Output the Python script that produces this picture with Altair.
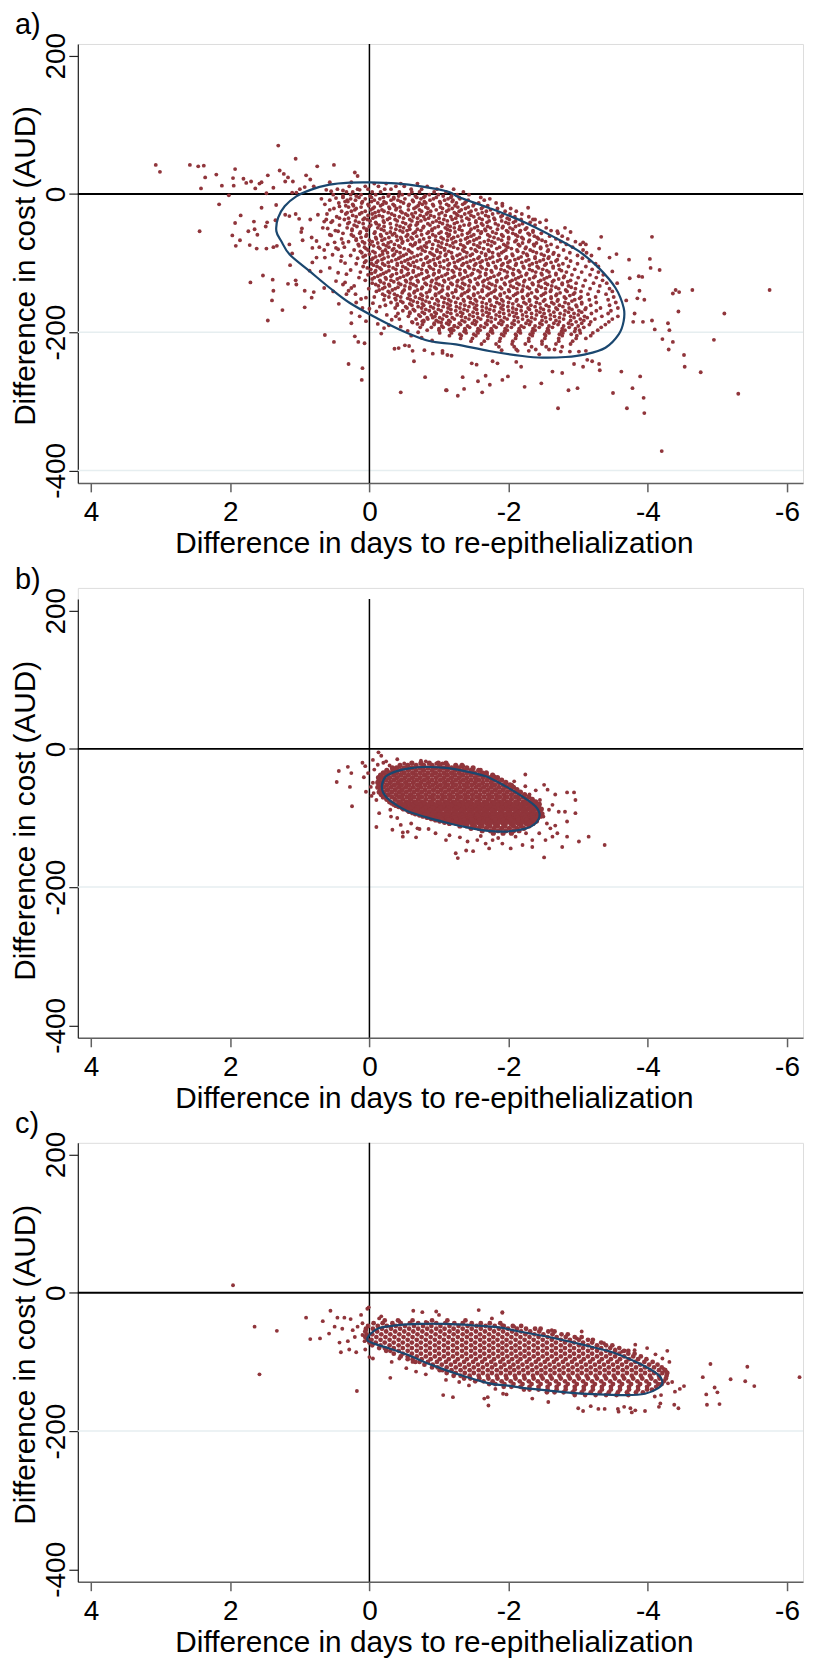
import altair as alt
import pandas as pd

FONT = "Liberation Sans"
DOT = "#90353b"
NAVY = "#1a476f"
X_TICKS = [4, 2, 0, -2, -4, -6]
Y_TICKS = [200, 0, -200, -400]
X_DOMAIN = [-6.23, 4.19]
Y_DOMAIN = [-418, 217]
X_TITLE = "Difference in days to re-epithelialization"
Y_TITLE = "Difference in cost (AUD)"

# ---------------- panel a ----------------
a_extra = [
    (3.07, 42), (3.01, 32), (2.58, 42), (2.46, 40), (2.38, 41), (2.36, 24), (2.42, 8), (2.20, 28), (2.12, 12),
    (2.02, -2), (1.93, 36), (1.96, 23), (1.95, 12), (1.81, 22), (1.77, 16), (1.70, 18), (1.64, 8), (1.58, 15),
    (1.55, 17), (1.46, 27), (1.48, 1), (1.38, 9), (1.31, 70), (1.29, 34), (1.23, 29), (1.21, 18), (1.17, 24),
    (1.10, 18), (1.06, 51), (1.11, 2), (1.05, 2), (1.00, 7), (0.93, 10), (0.91, 27), (0.85, 21), (0.80, 11),
    (0.75, 40), (0.57, 17), (0.51, 42), (0.38, 5), (0.26, 17), (0.21, 31), (0.17, 26), (0.14, 6),
    (2.16, -15), (2.44, -54), (1.85, -31), (1.93, -42), (1.97, -60), (1.86, -67), (1.92, -75), (1.74, -54),
    (1.66, -40), (1.65, -51), (1.61, -59), (1.62, -79), (1.72, -74), (1.48, -79), (1.55, -20), (1.47, -41),
    (1.49, -47), (1.34, -16), (1.35, -38), (1.38, -77), (1.33, -75), (1.71, -128), (1.53, -118), (1.39, -124),
    (1.38, -140), (1.40, -154), (1.25, -168), (1.46, -183), (1.17, -130), (1.05, -131), (1.06, -125),
    (0.93, -164), (0.83, -150), (0.80, -142), (0.93, -140), (1.21, -30), (1.15, -32), (1.15, -73), (1.14, -103),
    (1.11, -86), (1.06, -29), (1.01, -36), (0.98, -55), (0.97, -50), (0.96, -67), (0.85, -37), (0.83, -63),
    (0.82, -78), (0.86, -111), (0.82, -99), (0.76, -92), (0.72, -77), (0.70, -112), (0.65, -81), (0.65, -136),
    (0.64, -204), (0.51, -214), (0.48, -126), (0.44, -159), (0.52, -141), (0.30, -246), (0.26, -187),
    (0.21, -206), (0.16, -214), (0.11, -269), (0.10, -252), (0.07, -216), (0.0, -166),
    (0.69, -7), (0.62, 6), (0.55, 4), (0.48, -6), (0.38, -3), (0.31, -11), (0.64, -15), (0.57, -23), (0.43, -18),
    (0.74, -30), (0.62, -37), (0.53, -39), (0.43, -35), (0.67, -49), (0.57, -59), (0.45, -54), (0.76, -68),
    (0.60, -73), (0.48, -78), (0.38, -71), (0.64, -92), (0.53, -88), (0.41, -97), (0.57, -107), (0.45, -114),
    (0.33, -116), (0.38, -131), (0.26, -136), (0.33, -145), (0.19, -157), (0.10, -165), (0.26, -172),
    (0.14, -177), (0.05, -184),
    (0.2, -145), (0.05, -150), (-0.05, -158), (0.12, -152), (-0.15, -163), (-0.1, -170), (-0.25, -175),
    (-0.32, -182), (-0.28, -190), (-0.45, -192), (-0.55, -198), (-0.6, -205), (-0.75, -208), (-0.9, -212),
    (-0.7, -200), (0.3, -140), (0.35, -128), (0.22, -133), (0.15, -121), (0.27, -110), (0.35, -100),
    (0.4, -90), (0.45, -80), (0.5, -70), (0.55, -60), (0.6, -50), (0.65, -40),
    (-1.73, -7), (-1.91, -14), (-2.28, -20), (-2.35, -37), (-2.54, -38), (-2.70, -54), (-2.81, -49),
    (-2.89, -55), (-3.07, -70), (-3.11, -73), (-3.33, -62), (-3.30, -79), (-3.45, -92), (-3.55, -87),
    (-3.49, -112), (-3.56, -129), (-3.73, -95), (-3.74, -122), (-3.87, -119), (-3.92, -120), (-3.88, -140),
    (-3.95, -153), (-3.85, -151), (-3.69, -154), (-3.81, -173), (-3.79, -185), (-3.93, -185), (-4.06, -183),
    (-4.10, -196), (-4.03, -94), (-4.06, -62), (-4.17, -110), (-4.04, -107), (-4.29, -187), (-4.31, -197),
    (-4.21, -210), (-4.36, -144), (-4.40, -139), (-4.45, -142), (-4.44, -170), (-4.64, -139), (-4.36, -214),
    (-4.30, -225), (-4.52, -233), (-4.53, -250), (-4.76, -258), (-4.95, -211), (-5.10, -173), (-5.30, -289),
    (-5.75, -139), (-4.20, -372), (-3.89, -264), (-3.78, -281), (-3.94, -295), (-3.95, -317), (-3.70, -310),
    (-3.50, -288), (-3.62, -257), (-3.31, -255), (-3.30, -246), (-3.13, -240), (-3.07, -250), (-2.99, -281),
    (-2.86, -284), (-2.94, -246), (-2.77, -259), (-2.63, -257), (-2.71, -310), (-2.47, -274), (-2.23, -279),
    (-2.18, -250), (-2.11, -243), (-1.99, -264), (-1.91, -269), (-1.73, -276), (-1.67, -263), (-1.62, -287),
    (-1.56, -271), (-1.47, -245), (-1.54, -247), (-1.36, -282), (-1.34, -265), (-1.27, -292), (-1.11, -284),
    (-1.12, -233), (-1.18, -234), (-1.05, -227), (-1.77, -242), (-1.84, -245), (-1.90, -226), (-2.13, -227),
    (-2.29, -227), (-2.44, -232), (-2.58, -225), (-2.75, -228), (-2.88, -228), (-3.01, -228), (-3.11, -227),
    (-3.20, -242), (-0.36, -224), (-0.42, -223), (-0.51, -219), (-0.57, -220), (-0.64, -242), (-0.62, -227),
    (-0.79, -226), (-0.80, -265), (-0.91, -231), (-1.05, -230), (-1.10, -284), (-0.45, -287), (-0.17, -202),
    (-0.38, -177), (-0.43, -181), (-0.62, -186), (-0.69, -188), (-0.73, -193), (-0.76, -184), (-0.91, -179),
    (-1.03, -186), (-1.15, -196), (-1.22, -191), (-0.12, -188), (-0.21, -194),
]

a_rows = [
    (15, [-.07, -.24, -.45, -.69]),
    (11, [.29, .06, -.13, -.38, -.5, -.83, -1.04]),
    (7, [.46, .17, .02, -.22, -.31, -.6, -.75, -.97, -1.21]),
    (3, [.33, .24, -.04, -.16, -.43, -.61, -.72, -.93, -1.1, -1.35]),
    (-1, [.52, .27, .12, -.09, -.28, -.47, -.57, -.86, -.99, -1.26, -1.43]),
    (-5, [.38, .15, -.03, -.2, -.35, -.68, -.78, -.96, -1.17, -1.29, -1.6]),
    (-9, [.57, .32, .2, -.07, -.31, -.41, -.62, -.87, -1.08, -1.2, -1.42, -1.65]),
    (-13, [.44, .11, -.12, -.24, -.49, -.72, -.81, -1.02, -1.25, -1.37, -1.57, -1.82]),
    (-17, [.34, .23, .01, -.16, -.36, -.56, -.7, -.92, -1.14, -1.23, -1.49, -1.7, -1.91]),
    (-21, [.51, .19, -.05, -.29, -.39, -.64, -.84, -1.05, -1.19, -1.38, -1.61, -1.84, -2.03]),
    (-25, [.4, .26, .06, -.13, -.21, -.45, -.75, -.88, -1.11, -1.29, -1.46, -1.68, -1.95, -2.11]),
    (-29, [.61, .34, .14, -.04, -.32, -.52, -.61, -.82, -1.0, -1.25, -1.37, -1.56, -1.77, -2.02, -2.19]),
    (-33, [.47, .19, -.09, -.19, -.43, -.63, -.78, -.93, -1.17, -1.32, -1.5, -1.71, -1.89, -2.09, -2.29]),
    (-37, [.36, .09, .03, -.26, -.37, -.58, -.8, -1.07, -1.19, -1.43, -1.62, -1.8, -2.01, -2.18, -2.38]),
    (-41, [.55, .29, .15, -.09, -.21, -.48, -.69, -.91, -1.01, -1.26, -1.53, -1.69, -1.96, -2.07, -2.31, -2.45]),
    (-45, [.43, .22, -.02, -.14, -.39, -.59, -.67, -.87, -1.12, -1.36, -1.43, -1.63, -1.85, -2.15, -2.38]),
    (-49, [.32, .08, -.12, -.31, -.49, -.77, -.94, -1.09, -1.22, -1.51, -1.74, -1.91, -2.02, -2.26, -2.54]),
    (-53, [.49, .25, .04, -.21, -.44, -.54, -.74, -.9, -1.16, -1.33, -1.56, -1.67, -1.97, -2.17, -2.35, -2.61]),
    (-57, [.38, .14, -.07, -.25, -.36, -.63, -.83, -1.0, -1.11, -1.41, -1.6, -1.82, -2.06, -2.28, -2.47, -2.71]),
    (-61, [.23, .05, -.17, -.39, -.53, -.68, -.95, -1.13, -1.27, -1.46, -1.73, -1.92, -2.13, -2.37, -2.59, -2.77]),
    (-65, [.4, .19, -.1, -.22, -.46, -.62, -.78, -1.06, -1.18, -1.38, -1.54, -1.85, -2.0, -2.21, -2.43, -2.68, -2.85]),
    (-69, [.3, .1, -.04, -.31, -.48, -.72, -.86, -.99, -1.24, -1.44, -1.65, -1.76, -2.09, -2.29, -2.53, -2.75, -2.96]),
    (-73, [.16, -.01, -.2, -.36, -.59, -.65, -.91, -1.11, -1.31, -1.5, -1.7, -1.93, -2.14, -2.36, -2.61, -2.83, -3.03]),
    (-77, [.36, .07, -.13, -.28, -.44, -.74, -.82, -1.03, -1.21, -1.37, -1.58, -1.87, -1.99, -2.25, -2.46, -2.7, -2.92]),
    (-81, [.22, .02, -.23, -.33, -.56, -.76, -.97, -1.08, -1.34, -1.52, -1.71, -1.96, -2.12, -2.31, -2.57, -2.79, -3.07]),
    (-85, [.11, -.08, -.26, -.44, -.61, -.87, -1.02, -1.18, -1.4, -1.61, -1.77, -1.9, -2.21, -2.4, -2.65, -2.88, -3.12]),
    (-89, [.27, .06, -.15, -.34, -.49, -.69, -.93, -1.09, -1.26, -1.45, -1.67, -1.86, -2.06, -2.27, -2.51, -2.72, -2.99, -3.19]),
    (-93, [.17, -.05, -.21, -.42, -.59, -.81, -.98, -1.2, -1.34, -1.56, -1.73, -1.96, -2.14, -2.38, -2.57, -2.83, -3.06]),
    (-97, [.05, -.12, -.32, -.51, -.68, -.87, -1.07, -1.27, -1.45, -1.62, -1.84, -2.02, -2.25, -2.45, -2.68, -2.89, -3.16]),
    (-101, [.19, -.03, -.19, -.4, -.56, -.78, -.94, -1.15, -1.35, -1.53, -1.7, -1.92, -2.11, -2.34, -2.54, -2.78, -2.99, -3.25]),
    (-105, [.09, -.11, -.28, -.48, -.65, -.86, -1.02, -1.23, -1.42, -1.6, -1.81, -1.99, -2.21, -2.41, -2.64, -2.86, -3.11, -3.29]),
    (-109, [-.02, -.17, -.38, -.55, -.75, -.92, -1.13, -1.3, -1.5, -1.68, -1.89, -2.07, -2.3, -2.49, -2.73, -2.95, -3.2]),
    (-113, [.13, -.08, -.24, -.46, -.63, -.83, -1.0, -1.21, -1.38, -1.59, -1.76, -1.98, -2.16, -2.39, -2.58, -2.83, -3.05, -3.29]),
    (-117, [.02, -.16, -.33, -.54, -.71, -.92, -1.09, -1.3, -1.46, -1.67, -1.85, -2.07, -2.25, -2.48, -2.68, -2.91, -3.17, -3.36]),
    (-121, [-.07, -.23, -.44, -.61, -.82, -.99, -1.19, -1.36, -1.57, -1.74, -1.96, -2.14, -2.36, -2.55, -2.79, -3.0, -3.26]),
    (-125, [.06, -.15, -.31, -.52, -.69, -.9, -1.07, -1.27, -1.44, -1.65, -1.83, -2.05, -2.23, -2.46, -2.65, -2.89, -3.1, -3.35]),
    (-129, [-.04, -.21, -.42, -.59, -.8, -.96, -1.17, -1.34, -1.55, -1.72, -1.94, -2.12, -2.34, -2.53, -2.77, -2.97, -3.22, -3.41]),
    (-133, [-.13, -.29, -.51, -.67, -.88, -1.05, -1.26, -1.43, -1.64, -1.81, -2.03, -2.21, -2.43, -2.62, -2.86, -3.07, -3.31]),
    (-137, [.01, -.19, -.37, -.58, -.75, -.96, -1.13, -1.34, -1.51, -1.72, -1.9, -2.12, -2.3, -2.53, -2.72, -2.96, -3.17, -3.45]),
    (-141, [-.1, -.27, -.48, -.65, -.86, -1.03, -1.24, -1.41, -1.62, -1.79, -2.01, -2.19, -2.41, -2.6, -2.84, -3.04, -3.29, -3.49]),
    (-145, [-.19, -.36, -.57, -.74, -.95, -1.12, -1.33, -1.5, -1.71, -1.88, -2.1, -2.28, -2.5, -2.69, -2.93, -3.14, -3.4]),
    (-149, [-.07, -.28, -.45, -.66, -.83, -1.04, -1.21, -1.42, -1.59, -1.8, -1.98, -2.2, -2.38, -2.61, -2.8, -3.04, -3.25, -3.51]),
    (-153, [-.21, -.38, -.59, -.76, -.97, -1.14, -1.35, -1.52, -1.73, -1.9, -2.12, -2.3, -2.52, -2.71, -2.95, -3.16, -3.43]),
    (-157, [-.31, -.48, -.69, -.86, -1.07, -1.24, -1.45, -1.62, -1.83, -2.0, -2.22, -2.4, -2.62, -2.81, -3.05, -3.26, -3.54]),
    (-161, [-.23, -.4, -.61, -.78, -.99, -1.16, -1.37, -1.54, -1.75, -1.92, -2.14, -2.32, -2.54, -2.73, -2.97, -3.18, -3.45]),
    (-165, [-.37, -.54, -.75, -.92, -1.13, -1.3, -1.51, -1.68, -1.89, -2.06, -2.28, -2.46, -2.68, -2.87, -3.11, -3.32, -3.57]),
    (-169, [-.48, -.65, -.86, -1.03, -1.24, -1.41, -1.62, -1.79, -2.0, -2.18, -2.4, -2.58, -2.81, -3.01, -3.26, -3.47]),
    (-173, [-.41, -.58, -.79, -.96, -1.17, -1.34, -1.55, -1.72, -1.93, -2.11, -2.33, -2.51, -2.74, -2.94, -3.19, -3.43]),
    (-177, [-.56, -.73, -.94, -1.11, -1.32, -1.49, -1.7, -1.87, -2.08, -2.26, -2.48, -2.66, -2.89, -3.09, -3.34, -3.57]),
    (-181, [-.67, -.84, -1.05, -1.22, -1.43, -1.6, -1.81, -1.98, -2.2, -2.38, -2.6, -2.79, -3.03, -3.24, -3.49]),
    (-185, [-.61, -.78, -.99, -1.16, -1.37, -1.54, -1.75, -1.92, -2.14, -2.32, -2.54, -2.73, -2.97, -3.18, -3.44]),
    (-189, [-.76, -.93, -1.14, -1.31, -1.52, -1.69, -1.9, -2.08, -2.3, -2.48, -2.71, -2.91, -3.16, -3.39]),
    (-193, [-.89, -1.06, -1.27, -1.44, -1.65, -1.82, -2.04, -2.22, -2.44, -2.63, -2.87, -3.08, -3.33]),
    (-197, [-.83, -1.0, -1.21, -1.38, -1.59, -1.76, -1.98, -2.16, -2.38, -2.57, -2.81, -3.02, -3.28]),
    (-201, [-1.01, -1.18, -1.39, -1.56, -1.77, -1.95, -2.17, -2.35, -2.58, -2.78, -3.03, -3.21]),
    (-205, [-1.15, -1.32, -1.53, -1.71, -1.93, -2.11, -2.34, -2.53, -2.77, -2.98, -3.18]),
    (-209, [-1.31, -1.48, -1.7, -1.88, -2.1, -2.29, -2.52, -2.72, -2.97, -3.11]),
    (-213, [-1.46, -1.65, -1.87, -2.06, -2.29, -2.48, -2.72, -2.92]),
    (-217, [-1.61, -1.82, -2.05, -2.24, -2.48, -2.68, -2.89]),
    (-221, [-1.86, -2.08, -2.33, -2.54, -2.77]),
    (-225, [-2.11, -2.39, -2.66]),
    # denser middle band
    (-3, [.19, -.01, -.27, -.42, -.66, -.8, -1.06, -1.18]),
    (-7, [.27, .06, -.15, -.35, -.51, -.74, -.92, -1.13, -1.3]),
    (-11, [.35, .1, -.03, -.21, -.45, -.63, -.79, -1.01, -1.19, -1.39]),
    (-15, [.24, .02, -.19, -.34, -.57, -.76, -.91, -1.11, -1.34, -1.5]),
    (-19, [.3, .12, -.07, -.28, -.44, -.67, -.81, -1.02, -1.27, -1.42, -1.63]),
    (-23, [.21, -.02, -.18, -.38, -.56, -.72, -.96, -1.14, -1.32, -1.53, -1.74]),
    (-27, [.32, .11, -.08, -.27, -.47, -.66, -.84, -1.04, -1.22, -1.43, -1.62, -1.85]),
    (-31, [.24, .02, -.14, -.36, -.55, -.73, -.88, -1.09, -1.27, -1.46, -1.67, -1.91]),
    (-35, [.3, .07, -.05, -.29, -.49, -.69, -.85, -1.0, -1.24, -1.4, -1.58, -1.79, -1.98]),
    (-39, [.2, -.01, -.2, -.4, -.61, -.74, -.96, -1.12, -1.33, -1.53, -1.72, -1.9, -2.1]),
    (-43, [.31, .09, -.1, -.3, -.52, -.69, -.84, -1.05, -1.22, -1.44, -1.61, -1.81, -2.0, -2.2]),
    (-47, [.18, .0, -.21, -.44, -.57, -.78, -.99, -1.16, -1.3, -1.55, -1.7, -1.92, -2.1]),
    (-51, [.25, .04, -.17, -.38, -.58, -.69, -.9, -1.12, -1.29, -1.46, -1.66, -1.84, -2.06, -2.24]),
    (-55, [.13, -.08, -.3, -.48, -.66, -.85, -1.03, -1.23, -1.44, -1.61, -1.77, -1.99, -2.16, -2.35]),
    (-59, [.26, .04, -.16, -.33, -.55, -.75, -.91, -1.15, -1.33, -1.5, -1.7, -1.9, -2.1, -2.3]),
    (-63, [.12, -.09, -.28, -.45, -.6, -.86, -1.03, -1.21, -1.41, -1.58, -1.79, -2.0, -2.19, -2.41]),
    (-67, [.19, .0, -.18, -.4, -.55, -.72, -.95, -1.12, -1.31, -1.5, -1.71, -1.9, -2.11, -2.3, -2.48]),
    (-71, [.07, -.12, -.27, -.47, -.66, -.82, -1.04, -1.2, -1.41, -1.59, -1.8, -1.99, -2.2, -2.4]),
    (-75, [.15, -.06, -.24, -.42, -.62, -.79, -.99, -1.16, -1.35, -1.55, -1.75, -1.96, -2.16, -2.37, -2.55]),
    (-79, [.05, -.15, -.35, -.5, -.7, -.9, -1.08, -1.27, -1.46, -1.64, -1.83, -2.04, -2.24, -2.46]),
    (-83, [.13, -.05, -.19, -.39, -.58, -.8, -.97, -1.14, -1.36, -1.54, -1.72, -1.93, -2.13, -2.35, -2.56]),
    (-87, [.0, -.19, -.36, -.53, -.74, -.9, -1.1, -1.3, -1.48, -1.67, -1.85, -2.05, -2.26, -2.47, -2.64]),
    (-91, [.09, -.09, -.27, -.45, -.64, -.83, -1.01, -1.19, -1.39, -1.58, -1.77, -1.97, -2.18, -2.38, -2.58]),
    (-95, [-.03, -.18, -.38, -.55, -.74, -.92, -1.12, -1.3, -1.5, -1.68, -1.88, -2.09, -2.29, -2.5, -2.7]),
    (-99, [.07, -.1, -.27, -.46, -.63, -.84, -1.01, -1.22, -1.4, -1.59, -1.78, -1.99, -2.19, -2.4, -2.61]),
    (-103, [-.06, -.22, -.4, -.59, -.77, -.95, -1.13, -1.33, -1.51, -1.71, -1.9, -2.1, -2.3, -2.52, -2.72]),
    (-107, [.03, -.15, -.34, -.52, -.7, -.88, -1.07, -1.25, -1.44, -1.62, -1.82, -2.02, -2.22, -2.43, -2.64]),
    (-111, [-.09, -.28, -.46, -.63, -.82, -1.0, -1.19, -1.37, -1.56, -1.75, -1.94, -2.14, -2.34, -2.55, -2.76]),
    (-115, [-.03, -.2, -.39, -.56, -.75, -.93, -1.12, -1.3, -1.48, -1.67, -1.87, -2.06, -2.26, -2.47, -2.68]),
    (-119, [-.12, -.31, -.49, -.67, -.85, -1.04, -1.22, -1.41, -1.59, -1.79, -1.98, -2.18, -2.38, -2.59, -2.8]),
    (-123, [-.04, -.24, -.4, -.59, -.78, -.96, -1.14, -1.33, -1.52, -1.7, -1.9, -2.1, -2.3, -2.51, -2.72]),
    (-127, [-.16, -.35, -.53, -.7, -.89, -1.08, -1.26, -1.45, -1.63, -1.83, -2.02, -2.22, -2.43, -2.63, -2.85]),
    (-131, [-.09, -.28, -.45, -.63, -.82, -1.0, -1.19, -1.37, -1.56, -1.76, -1.95, -2.15, -2.35, -2.56, -2.77]),
    (-135, [-.22, -.41, -.58, -.76, -.94, -1.13, -1.31, -1.5, -1.69, -1.88, -2.07, -2.27, -2.47, -2.68, -2.9]),
    (-139, [-.14, -.33, -.5, -.69, -.87, -1.05, -1.24, -1.43, -1.62, -1.81, -2.0, -2.2, -2.4, -2.61, -2.82]),
    (-143, [-.29, -.47, -.64, -.82, -1.0, -1.19, -1.37, -1.56, -1.75, -1.94, -2.13, -2.33, -2.53, -2.74, -2.95]),
    (-147, [-.22, -.4, -.58, -.76, -.95, -1.13, -1.32, -1.5, -1.69, -1.88, -2.07, -2.27, -2.47, -2.68, -2.88]),
    (-151, [-.37, -.55, -.72, -.9, -1.08, -1.27, -1.45, -1.64, -1.83, -2.02, -2.21, -2.41, -2.61, -2.82, -3.02]),
    (-155, [-.45, -.63, -.81, -.99, -1.17, -1.36, -1.54, -1.73, -1.92, -2.11, -2.3, -2.5, -2.7, -2.91]),
    (-159, [-.4, -.58, -.76, -.94, -1.12, -1.31, -1.49, -1.68, -1.87, -2.06, -2.25, -2.45, -2.65, -2.86, -3.05]),
    (-163, [-.52, -.7, -.88, -1.06, -1.25, -1.43, -1.62, -1.8, -1.99, -2.18, -2.38, -2.58, -2.78, -2.98]),
    (-167, [-.63, -.81, -.99, -1.17, -1.36, -1.54, -1.73, -1.92, -2.11, -2.3, -2.5, -2.7, -2.91, -3.1]),
    (-171, [-.58, -.76, -.94, -1.12, -1.31, -1.49, -1.68, -1.87, -2.06, -2.25, -2.45, -2.65, -2.86, -3.05]),
    (-175, [-.71, -.89, -1.07, -1.26, -1.44, -1.63, -1.82, -2.01, -2.2, -2.4, -2.6, -2.8, -3.0]),
    (-179, [-.83, -1.01, -1.19, -1.38, -1.56, -1.75, -1.94, -2.13, -2.33, -2.53, -2.73, -2.94, -3.13]),
    (-183, [-.78, -.96, -1.14, -1.33, -1.51, -1.7, -1.89, -2.08, -2.28, -2.48, -2.68, -2.89, -3.08]),
    (-187, [-.93, -1.11, -1.29, -1.48, -1.67, -1.86, -2.05, -2.25, -2.45, -2.65, -2.86, -3.05]),
    (-191, [-1.04, -1.22, -1.41, -1.6, -1.79, -1.98, -2.18, -2.38, -2.58, -2.79, -3.0]),
    (-195, [-1.0, -1.18, -1.37, -1.56, -1.75, -1.95, -2.15, -2.35, -2.56, -2.77, -2.96]),
    (-199, [-1.17, -1.36, -1.55, -1.74, -1.94, -2.14, -2.34, -2.55, -2.76, -2.95]),
    (-203, [-1.3, -1.5, -1.7, -1.9, -2.1, -2.31, -2.52, -2.73, -2.9]),
]

a_ellipse = [
    (1.337, -53.9), (1.313, -34.7), (1.218, -17.8), (1.051, -3.4), (0.836, 6.3), (0.573, 13.5), (0.287, 16.4),
    (0.0, 16.8), (-0.382, 15.4), (-0.764, 10.6), (-1.146, 2.9), (-1.289, -4.8), (-1.719, -20.2), (-2.197, -39.5),
    (-2.674, -63.5), (-3.009, -82.8), (-3.295, -106.9), (-3.534, -135.7), (-3.653, -164.6), (-3.653, -183.9),
    (-3.582, -203.1), (-3.391, -222.4), (-3.104, -232.0), (-2.818, -235.9), (-2.483, -236.8), (-2.197, -234.4),
    (-1.719, -227.2), (-1.242, -217.6), (-0.860, -212.8), (-0.478, -198.3), (-0.096, -179.1), (0.287, -157.4),
    (0.573, -135.7), (0.860, -111.7), (1.146, -87.6), (1.266, -68.4),
]
a_grid = [-200, -400]

# ---------------- panel b ----------------
b_extra = [
    (-0.13, -5), (-0.17, -10), (0.44, -32), (0.31, -26), (0.26, -35), (0.47, -48), (0.28, -55), (0.25, -83),
    (0.10, -20), (0.06, -25), (0.02, -35), (0.08, -41), (-0.05, -16), (-0.07, -30), (-0.12, -23), (-0.24, -18),
    (-0.29, -24), (-0.05, -49), (-0.06, -64), (-0.10, -74), (-0.14, -93), (-0.10, -113), (-0.31, -98),
    (-0.33, -117), (-0.48, -127), (-0.55, -120), (-0.67, -128), (-0.72, -116), (-0.85, -116), (-1.10, -132),
    (-1.24, -151), (-1.27, -158), (-1.39, -147), (-1.49, -148), (-1.41, -134), (-1.55, -132), (-1.67, -137),
    (-1.77, -132), (-1.72, -144), (-1.91, -137), (-2.03, -144), (-2.20, -139), (-2.34, -142), (-2.51, -157),
    (-2.34, -132), (-2.44, -122), (-2.53, -132), (-2.63, -127), (-2.67, -111), (-2.70, -122), (-2.77, -142),
    (-2.84, -127), (-2.84, -105), (-2.96, -93), (-3.01, -134), (-3.15, -127), (-3.38, -139), (-2.84, -63),
    (-2.94, -63), (-2.96, -74), (-2.67, -66), (-2.51, -52), (-2.56, -59), (-2.39, -60), (-2.24, -37),
    (-2.08, -47), (-1.96, -50), (-1.80, -40), (-1.67, -36), (-2.24, -54), (-2.63, -81), (-2.72, -91),
    (-2.81, -91), (-0.74, -17), (-0.81, -18), (-0.96, -21), (-1.05, -21), (-1.24, -28), (-1.48, -32),
    (-0.69, -115), (-0.48, -121), (-0.45, -110), (-1.15, -125), (-1.3, -128), (-1.6, -126), (-1.85, -129),
    (-2.1, -127), (-2.25, -122), (-2.5, -98), (-2.55, -108), (-2.58, -88), (-2.6, -115), (-0.95, -122),
    (-0.6, -108), (-0.4, -100), (-0.3, -88), (-0.2, -20), (-0.4, -15), (-0.5, -21), (-1.35, -25), (-1.6, -30),
    (-1.9, -45), (-2.05, -52), (-2.3, -66), (-2.45, -74), (-0.02, -55), (-0.03, -68), (0.05, -62),
]

b_rows = [
    (-20.5, [-.61, -.74, -.86, -.99, -1.1]),
    (-24, [-.44, -.55, -.67, -.78, -.9, -1.01, -1.12, -1.24, -1.33]),
    (-27.5, [-.33, -.39, -.5, -.61, -.73, -.84, -.95, -1.06, -1.18, -1.29, -1.4, -1.49]),
    (-31, [-.25, -.34, -.45, -.56, -.67, -.78, -.9, -1.01, -1.12, -1.23, -1.35, -1.46, -1.57]),
    (-34.5, [-.2, -.29, -.39, -.5, -.62, -.73, -.84, -.95, -1.07, -1.18, -1.29, -1.4, -1.51, -1.62, -1.68]),
    (-38, [-.16, -.24, -.35, -.45, -.56, -.67, -.79, -.9, -1.01, -1.12, -1.23, -1.34, -1.46, -1.57, -1.68, -1.77]),
    (-41.5, [-.13, -.19, -.29, -.4, -.51, -.62, -.73, -.84, -.96, -1.07, -1.18, -1.29, -1.4, -1.52, -1.63, -1.74, -1.84]),
    (-45, [-.14, -.24, -.35, -.46, -.57, -.68, -.79, -.9, -1.02, -1.13, -1.24, -1.35, -1.46, -1.57, -1.69, -1.8, -1.9]),
    (-48.5, [-.12, -.19, -.3, -.41, -.52, -.63, -.74, -.85, -.96, -1.08, -1.19, -1.3, -1.41, -1.52, -1.63, -1.75, -1.86, -1.96]),
    (-52, [-.15, -.25, -.36, -.46, -.57, -.69, -.8, -.91, -1.02, -1.13, -1.24, -1.36, -1.47, -1.58, -1.69, -1.8, -1.92, -2.02]),
    (-55.5, [-.12, -.2, -.31, -.42, -.52, -.63, -.74, -.86, -.97, -1.08, -1.19, -1.3, -1.41, -1.53, -1.64, -1.75, -1.86, -1.97, -2.07]),
    (-59, [-.16, -.26, -.37, -.47, -.58, -.69, -.8, -.92, -1.03, -1.14, -1.25, -1.36, -1.47, -1.59, -1.7, -1.81, -1.92, -2.03, -2.12]),
    (-62.5, [-.14, -.21, -.32, -.43, -.53, -.64, -.75, -.86, -.98, -1.09, -1.2, -1.31, -1.42, -1.53, -1.65, -1.76, -1.87, -1.98, -2.09, -2.17]),
    (-66, [-.17, -.27, -.38, -.48, -.59, -.7, -.81, -.92, -1.04, -1.15, -1.26, -1.37, -1.48, -1.59, -1.71, -1.82, -1.93, -2.04, -2.15, -2.23]),
    (-69.5, [-.2, -.32, -.43, -.54, -.64, -.75, -.87, -.98, -1.09, -1.2, -1.31, -1.42, -1.54, -1.65, -1.76, -1.87, -1.98, -2.1, -2.21, -2.29]),
    (-73, [-.25, -.37, -.48, -.59, -.7, -.81, -.92, -1.04, -1.15, -1.26, -1.37, -1.48, -1.59, -1.71, -1.82, -1.93, -2.04, -2.15, -2.26, -2.34]),
    (-76.5, [-.29, -.42, -.53, -.64, -.75, -.87, -.98, -1.09, -1.2, -1.31, -1.42, -1.54, -1.65, -1.76, -1.87, -1.98, -2.1, -2.21, -2.32, -2.39]),
    (-80, [-.35, -.47, -.59, -.7, -.81, -.92, -1.03, -1.15, -1.26, -1.37, -1.48, -1.59, -1.7, -1.82, -1.93, -2.04, -2.15, -2.27, -2.38, -2.44]),
    (-83.5, [-.42, -.53, -.64, -.76, -.87, -.98, -1.09, -1.2, -1.31, -1.43, -1.54, -1.65, -1.76, -1.87, -1.99, -2.1, -2.21, -2.32, -2.43]),
    (-87, [-.49, -.6, -.71, -.82, -.93, -1.04, -1.15, -1.27, -1.38, -1.49, -1.6, -1.71, -1.82, -1.94, -2.05, -2.16, -2.27, -2.38, -2.47]),
    (-90.5, [-.57, -.67, -.78, -.89, -1.0, -1.11, -1.22, -1.33, -1.45, -1.56, -1.67, -1.78, -1.89, -2.0, -2.12, -2.23, -2.34, -2.45]),
    (-94, [-.66, -.75, -.86, -.96, -1.07, -1.18, -1.3, -1.41, -1.52, -1.63, -1.74, -1.86, -1.97, -2.08, -2.19, -2.3, -2.42, -2.48]),
    (-97.5, [-.77, -.84, -.94, -1.05, -1.16, -1.27, -1.38, -1.49, -1.61, -1.72, -1.83, -1.94, -2.05, -2.16, -2.28, -2.39, -2.46]),
    (-101, [-.89, -.97, -1.07, -1.18, -1.29, -1.4, -1.52, -1.63, -1.74, -1.85, -1.96, -2.07, -2.19, -2.3, -2.41]),
    (-104.5, [-1.01, -1.1, -1.2, -1.31, -1.42, -1.53, -1.64, -1.76, -1.87, -1.98, -2.09, -2.2, -2.32, -2.4]),
    (-108, [-1.15, -1.25, -1.36, -1.47, -1.58, -1.69, -1.8, -1.92, -2.03, -2.14, -2.25, -2.35]),
    (-111.5, [-1.3, -1.4, -1.51, -1.62, -1.73, -1.84, -1.95, -2.07, -2.18, -2.29]),
    (-115, [-1.46, -1.57, -1.68, -1.79, -1.9, -2.01, -2.12, -2.22]),
    (-118.5, [-1.62, -1.74, -1.85, -1.96, -2.07, -2.15]),
    (-122, [-1.78, -1.92, -2.04]),
    # in-between rows of the lower half
    (-78.25, [-.32, -.44, -.56, -.67, -.78, -.89, -1.0, -1.12, -1.23, -1.34, -1.45, -1.56, -1.68, -1.79, -1.9, -2.01, -2.12, -2.24, -2.35]),
    (-81.75, [-.38, -.5, -.62, -.73, -.84, -.95, -1.06, -1.18, -1.29, -1.4, -1.51, -1.62, -1.74, -1.85, -1.96, -2.07, -2.18, -2.3, -2.41]),
    (-85.25, [-.47, -.58, -.69, -.8, -.91, -1.02, -1.13, -1.24, -1.35, -1.46, -1.57, -1.68, -1.79, -1.9, -2.01, -2.12, -2.23, -2.34, -2.43]),
    (-88.75, [-.55, -.66, -.76, -.87, -.98, -1.1, -1.21, -1.32, -1.43, -1.54, -1.65, -1.76, -1.88, -1.99, -2.1, -2.21, -2.32, -2.43]),
    (-92.25, [-.62, -.72, -.83, -.92, -1.02, -1.14, -1.25, -1.36, -1.47, -1.58, -1.69, -1.8, -1.91, -2.02, -2.14, -2.25, -2.36, -2.45]),
    (-95.75, [-.72, -.8, -.9, -1.0, -1.11, -1.22, -1.33, -1.44, -1.55, -1.66, -1.78, -1.89, -2.0, -2.11, -2.22, -2.34, -2.43]),
    (-99.25, [-.83, -.91, -1.02, -1.12, -1.23, -1.35, -1.46, -1.57, -1.68, -1.79, -1.9, -2.01, -2.13, -2.24, -2.35, -2.42]),
    (-102.75, [-.95, -1.04, -1.14, -1.25, -1.36, -1.47, -1.58, -1.7, -1.81, -1.92, -2.03, -2.14, -2.26, -2.37]),
    (-106.25, [-1.08, -1.19, -1.3, -1.41, -1.52, -1.63, -1.74, -1.86, -1.97, -2.08, -2.19, -2.3]),
]

b_ellipse = [
    (-0.181, -51.9), (-0.239, -39.7), (-0.382, -32.5), (-0.573, -28.1), (-0.812, -26.2), (-1.098, -27.6),
    (-1.385, -32.5), (-1.671, -39.7), (-1.958, -54.3), (-2.197, -68.8), (-2.388, -83.3), (-2.445, -95.4),
    (-2.388, -107.5), (-2.245, -115.3), (-1.958, -119.6), (-1.671, -118.2), (-1.385, -113.3), (-1.098, -106.6),
    (-0.812, -98.8), (-0.525, -89.1), (-0.310, -76.1), (-0.201, -64.0),
]
b_grid = [-200]

# ---------------- panel c ----------------
c_extra = [
    (1.96, 11), (1.65, -49), (1.33, -55), (1.58, -118), (0.18, -142), (0.91, -36), (0.85, -67), (0.71, -66),
    (0.67, -41), (0.56, -26), (0.58, -59), (0.50, -49), (0.46, -36), (0.43, -72), (0.41, -86), (0.39, -52),
    (0.36, -36), (0.31, -70), (0.27, -38), (0.29, -82), (0.24, -54), (0.21, -64), (0.19, -86), (0.17, -49),
    (0.12, -32), (0.10, -44), (0.10, -61), (0.07, -70), (0.06, -82), (0.03, -23), (0.01, -21), (0.05, -54),
    (0.0, -93), (-0.05, -95), (-0.30, -123), (-0.14, -37), (-0.17, -34), (-0.43, -41), (-0.63, -26),
    (-0.76, -28), (-0.96, -27), (-1.00, -32), (-0.81, -42), (-1.06, -148), (-1.20, -151), (-1.57, -25),
    (-1.91, -28), (-1.76, -37), (-1.70, -151), (-1.65, -153), (-1.71, -163), (-1.43, -134), (-1.29, -129),
    (-1.10, -126), (-0.81, -118), (-0.67, -114), (-0.53, -109), (-0.62, -100), (-0.32, -100), (-0.43, -95),
    (-1.92, -146), (-1.81, -139),
    (-1.91, -29), (-1.91, -47), (-2.08, -49), (-2.62, -54), (-3.05, -56), (-2.98, -66), (-3.37, -73),
    (-3.53, -82), (-3.63, -85), (-3.82, -75), (-3.81, -83), (-3.99, -80), (-4.11, -89), (-4.21, -95),
    (-4.28, -84), (-4.31, -100), (-4.23, -110), (-4.27, -115), (-4.35, -129), (-4.29, -131), (-4.39, -143),
    (-4.46, -139), (-4.52, -135), (-4.19, -148), (-4.10, -150), (-4.18, -160), (-4.16, -165), (-4.38, -162),
    (-4.44, -167), (-3.96, -171), (-3.82, -170), (-3.75, -167), (-3.66, -165), (-3.57, -168), (-3.58, -172),
    (-3.77, -173), (-3.29, -168), (-3.38, -168), (-3.18, -164), (-3.07, -171), (-3.00, -167), (-2.57, -158),
    (-2.34, -153), (-1.97, -147), (-4.79, -122), (-4.84, -147), (-4.85, -162), (-4.90, -103), (-4.96, -137),
    (-5.00, -144), (-5.03, -161), (-5.19, -125), (-5.40, -128), (-5.43, -107), (-5.53, -135), (-6.18, -122),
]

c_rows = [
    (-40, [-.22, -.41, -.62, -.9, -1.12, -1.38]),
    (-44, [-.06, -.19, -.33, -.45, -.58, -.7, -.83, -.96, -1.09, -1.22, -1.34, -1.47, -1.6, -1.73, -1.88]),
    (-48, [.02, -.12, -.25, -.38, -.51, -.64, -.77, -.89, -1.02, -1.15, -1.28, -1.41, -1.54, -1.67, -1.8, -1.93, -2.06, -2.18]),
    (-52, [.05, -.05, -.18, -.31, -.44, -.57, -.7, -.83, -.96, -1.08, -1.21, -1.34, -1.47, -1.6, -1.73, -1.86, -1.99, -2.12, -2.25, -2.38, -2.46]),
    (-56, [.06, -.11, -.24, -.37, -.5, -.63, -.76, -.89, -1.02, -1.15, -1.27, -1.4, -1.53, -1.66, -1.79, -1.92, -2.05, -2.18, -2.31, -2.44, -2.57, -2.66]),
    (-60, [.04, -.04, -.17, -.3, -.43, -.56, -.69, -.82, -.95, -1.08, -1.21, -1.34, -1.46, -1.59, -1.72, -1.85, -1.98, -2.11, -2.24, -2.37, -2.5, -2.63, -2.76, -2.85]),
    (-64, [.06, -.1, -.23, -.36, -.49, -.62, -.75, -.88, -1.01, -1.14, -1.27, -1.4, -1.53, -1.65, -1.78, -1.91, -2.04, -2.17, -2.3, -2.43, -2.56, -2.69, -2.82, -2.95, -3.05]),
    (-68, [.03, -.03, -.16, -.29, -.42, -.55, -.68, -.81, -.94, -1.07, -1.2, -1.33, -1.46, -1.59, -1.72, -1.84, -1.97, -2.1, -2.23, -2.36, -2.49, -2.62, -2.75, -2.88, -3.01, -3.14, -3.21]),
    (-72, [.0, -.09, -.22, -.35, -.48, -.61, -.74, -.87, -1.0, -1.13, -1.26, -1.39, -1.52, -1.65, -1.78, -1.91, -2.03, -2.16, -2.29, -2.42, -2.55, -2.68, -2.81, -2.94, -3.07, -3.2, -3.33]),
    (-76, [-.04, -.16, -.29, -.42, -.55, -.68, -.81, -.94, -1.07, -1.2, -1.33, -1.46, -1.59, -1.72, -1.85, -1.97, -2.1, -2.23, -2.36, -2.49, -2.62, -2.75, -2.88, -3.01, -3.14, -3.27, -3.4, -3.49]),
    (-80, [-.14, -.22, -.35, -.48, -.61, -.74, -.87, -1.0, -1.13, -1.26, -1.39, -1.52, -1.65, -1.78, -1.91, -2.04, -2.16, -2.29, -2.42, -2.55, -2.68, -2.81, -2.94, -3.07, -3.2, -3.33, -3.46, -3.59]),
    (-84, [-.24, -.3, -.42, -.55, -.68, -.81, -.94, -1.07, -1.2, -1.33, -1.46, -1.59, -1.72, -1.85, -1.97, -2.1, -2.23, -2.36, -2.49, -2.62, -2.75, -2.88, -3.01, -3.14, -3.27, -3.4, -3.53, -3.66, -3.72]),
    (-88, [-.35, -.48, -.61, -.74, -.87, -1.0, -1.13, -1.26, -1.39, -1.52, -1.65, -1.78, -1.91, -2.04, -2.17, -2.29, -2.42, -2.55, -2.68, -2.81, -2.94, -3.07, -3.2, -3.33, -3.46, -3.59, -3.72, -3.81]),
    (-92, [-.45, -.55, -.68, -.81, -.94, -1.07, -1.2, -1.33, -1.46, -1.59, -1.72, -1.85, -1.98, -2.11, -2.23, -2.36, -2.49, -2.62, -2.75, -2.88, -3.01, -3.14, -3.27, -3.4, -3.53, -3.66, -3.79, -3.9]),
    (-96, [-.55, -.62, -.75, -.88, -1.01, -1.14, -1.27, -1.4, -1.53, -1.66, -1.79, -1.92, -2.05, -2.17, -2.3, -2.43, -2.56, -2.69, -2.82, -2.95, -3.08, -3.21, -3.34, -3.47, -3.6, -3.73, -3.86, -3.98]),
    (-100, [-.66, -.72, -.84, -.97, -1.1, -1.23, -1.36, -1.49, -1.62, -1.75, -1.88, -2.0, -2.13, -2.26, -2.39, -2.52, -2.65, -2.78, -2.91, -3.04, -3.17, -3.3, -3.43, -3.56, -3.69, -3.82, -3.95, -4.07]),
    (-104, [-.79, -.91, -1.04, -1.17, -1.3, -1.43, -1.56, -1.69, -1.81, -1.94, -2.07, -2.2, -2.33, -2.46, -2.59, -2.72, -2.85, -2.98, -3.11, -3.24, -3.37, -3.5, -3.63, -3.76, -3.89, -4.02, -4.14]),
    (-108, [-.9, -.98, -1.11, -1.24, -1.37, -1.5, -1.63, -1.76, -1.89, -2.02, -2.14, -2.27, -2.4, -2.53, -2.66, -2.79, -2.92, -3.05, -3.18, -3.31, -3.44, -3.57, -3.7, -3.83, -3.96, -4.09, -4.2]),
    (-112, [-1.01, -1.05, -1.18, -1.31, -1.44, -1.57, -1.7, -1.83, -1.96, -2.08, -2.21, -2.34, -2.47, -2.6, -2.73, -2.86, -2.99, -3.12, -3.25, -3.38, -3.51, -3.64, -3.77, -3.9, -4.03, -4.16, -4.25]),
    (-116, [-1.11, -1.24, -1.37, -1.5, -1.63, -1.76, -1.89, -2.02, -2.15, -2.28, -2.41, -2.53, -2.66, -2.79, -2.92, -3.05, -3.18, -3.31, -3.44, -3.57, -3.7, -3.83, -3.96, -4.09, -4.21, -4.28]),
    (-120, [-1.21, -1.31, -1.44, -1.57, -1.7, -1.83, -1.96, -2.09, -2.22, -2.35, -2.47, -2.6, -2.73, -2.86, -2.99, -3.12, -3.25, -3.38, -3.51, -3.64, -3.77, -3.9, -4.03, -4.16, -4.27]),
    (-124, [-1.36, -1.45, -1.58, -1.71, -1.84, -1.97, -2.1, -2.23, -2.36, -2.49, -2.62, -2.75, -2.88, -3.01, -3.14, -3.27, -3.4, -3.53, -3.66, -3.79, -3.92, -4.05, -4.17, -4.26]),
    (-128, [-1.52, -1.64, -1.77, -1.9, -2.03, -2.16, -2.29, -2.42, -2.55, -2.68, -2.81, -2.94, -3.07, -3.2, -3.33, -3.46, -3.59, -3.72, -3.85, -3.98, -4.11, -4.23]),
    (-132, [-1.72, -1.81, -1.94, -2.07, -2.2, -2.33, -2.46, -2.59, -2.72, -2.85, -2.98, -3.11, -3.24, -3.37, -3.5, -3.63, -3.76, -3.89, -4.02, -4.15, -4.2]),
    (-136, [-1.93, -2.04, -2.17, -2.3, -2.43, -2.56, -2.69, -2.82, -2.95, -3.08, -3.21, -3.34, -3.47, -3.6, -3.73, -3.86, -3.99, -4.12]),
    (-140, [-2.22, -2.3, -2.43, -2.56, -2.69, -2.82, -2.95, -3.08, -3.21, -3.34, -3.47, -3.6, -3.73, -3.86, -3.99, -4.06]),
    (-144, [-2.55, -2.66, -2.79, -2.92, -3.05, -3.18, -3.31, -3.44, -3.57, -3.7, -3.83, -3.93]),
    (-148, [-2.95, -3.1, -3.25, -3.4, -3.55, -3.72]),
]

c_ellipse = [
    (0.03, -68), (-0.02, -59), (-0.14, -51), (-0.38, -47), (-0.72, -45), (-1.10, -45), (-1.48, -47),
    (-1.86, -50), (-2.15, -56), (-2.58, -64), (-3.06, -75), (-3.49, -86), (-3.87, -102), (-4.13, -117),
    (-4.21, -129), (-4.15, -138), (-3.96, -146), (-3.68, -148), (-3.29, -147), (-2.82, -144), (-2.34, -139),
    (-1.96, -134), (-1.72, -131), (-1.34, -120), (-0.91, -105), (-0.53, -89), (-0.24, -79), (-0.05, -73),
]
c_grid = [-200]

NEG = "datum.value < 0 ? '-' + abs(datum.value) : '' + datum.value"
PLOT_W = 727
PLOT_H = 440


def panel(label, extra, rows, ellipse, grid, shift=0, core_size=15, label_pad=7, title_y=70):
    ext = pd.DataFrame({"days": [p[0] for p in extra], "cost": [p[1] for p in extra]})
    cx, cy = [], []
    for yv, xl in rows:
        for xv in xl:
            cx.append(xv)
            cy.append(yv)
    core = pd.DataFrame({"days": cx, "cost": cy})
    ell = pd.DataFrame({"days": [p[0] for p in ellipse],
                        "cost": [p[1] for p in ellipse],
                        "k": list(range(len(ellipse)))})

    xsc = alt.Scale(domain=X_DOMAIN, reverse=True, nice=False, zero=False)
    ysc = alt.Scale(domain=Y_DOMAIN, nice=False, zero=False, range=[PLOT_H + shift, shift])
    xax = alt.Axis(values=X_TICKS, title=X_TITLE, grid=False, labelExpr=NEG, labelFlush=False,
                   tickSize=9, tickWidth=1.5, tickColor="#606060", domainColor="#606060", domainWidth=1.5,
                   labelFont=FONT, labelFontSize=28, labelColor="black", labelPadding=label_pad,
                   titleFont=FONT, titleFontSize=29.8, titleFontWeight="normal", titleColor="black",
                   titleBaseline="alphabetic", titleAlign="center", titleX=357, titleY=title_y)
    yax = alt.Axis(values=Y_TICKS, title=Y_TITLE, grid=False, labelExpr=NEG, labelFlush=False,
                   tickSize=9, tickWidth=1.2, tickColor="#222222", domainColor="#222222", domainWidth=1.2,
                   labelFont=FONT, labelFontSize=28, labelColor="black", labelPadding=4,
                   labelAngle=270, labelAlign="center", labelBaseline="alphabetic",
                   titleFont=FONT, titleFontSize=29.8, titleFontWeight="normal", titleColor="black",
                   titleAngle=270, titleAlign="center", titleBaseline="alphabetic",
                   titleX=-43, titleY=PLOT_H / 2 + shift + 2)

    X = alt.X("days:Q", scale=xsc, axis=xax)
    Y = alt.Y("cost:Q", scale=ysc, axis=yax)

    gridl = alt.Chart(pd.DataFrame({"cost": grid})).mark_rule(
        color="#e6eef0", strokeWidth=1.5).encode(y=Y)
    zero_h = alt.Chart(pd.DataFrame({"cost": [0]})).mark_rule(
        color="black", strokeWidth=2).encode(y=Y)
    zero_v = alt.Chart(pd.DataFrame({"days": [0], "cost": [Y_DOMAIN[1]], "lo": [Y_DOMAIN[0]]})).mark_rule(
        color="black", strokeWidth=1.5).encode(x=X, y=Y, y2="lo:Q")
    dots = alt.Chart(ext).mark_circle(size=15, opacity=1, color=DOT).encode(x=X, y=Y)
    cdots = alt.Chart(core).mark_circle(size=core_size, opacity=1, color=DOT).encode(x=X, y=Y)
    ring = alt.Chart(ell).mark_line(color=NAVY, strokeWidth=2.2, interpolate="cardinal-closed").encode(
        x=X, y=Y, order="k:Q")
    tag = alt.Chart(pd.DataFrame({"t": [label]})).mark_text(
        align="left", baseline="alphabetic", font=FONT, fontSize=29, color="black").encode(
        text="t:N", x=alt.value(-63), y=alt.value(shift - 10))
    return alt.layer(gridl, zero_h, zero_v, dots, cdots, ring, tag).properties(
        width=PLOT_W, height=PLOT_H + shift)


pa = panel("a)", a_extra, a_rows, a_ellipse, a_grid)
pb = panel("b)", b_extra, b_rows, b_ellipse, b_grid, shift=11, core_size=27)
pc = panel("c)", c_extra, c_rows, c_ellipse, c_grid, core_size=23)

chart = alt.vconcat(pa, pb, pc, spacing=105.3, bounds="flush").properties(
    padding={"left": 2, "top": 0, "right": 0, "bottom": 0}
).configure_view(strokeWidth=0).configure(background="white")

chart.save("out.html", embed_options={"renderer": "svg", "actions": False})
